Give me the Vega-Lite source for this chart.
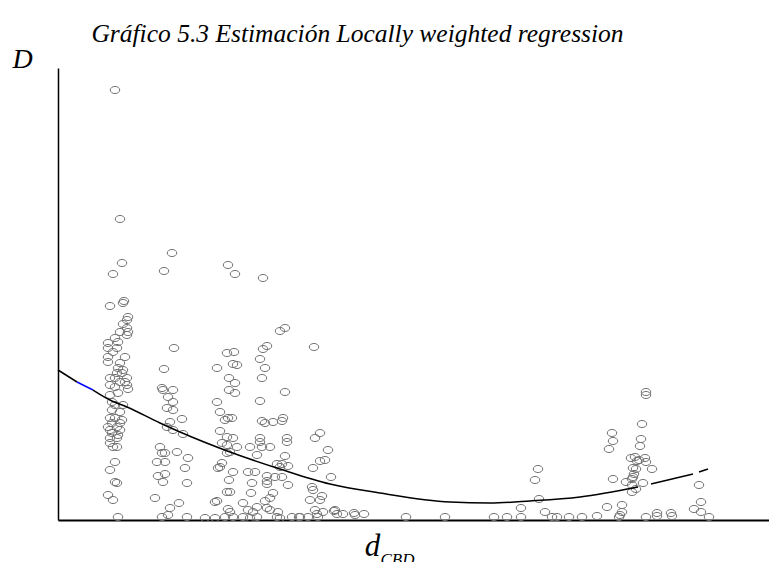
{
  "$schema": "https://vega.github.io/schema/vega-lite/v6.json",
  "width": 711,
  "height": 452,
  "autosize": {"type": "none"},
  "padding": {"left": 58, "top": 68, "right": 0, "bottom": 42},
  "background": "white",
  "config": {"view": {"stroke": null}},
  "title": {
    "text": "Gráfico 5.3 Estimación Locally weighted regression",
    "font": "Liberation Serif", "fontStyle": "italic", "fontWeight": "normal",
    "fontSize": 25.5, "color": "black", "anchor": "middle", "dx": -56, "offset": -2
  },
  "datasets": {
    "puntos": [
      {"dist":57,"D":430},{"dist":62,"D":301},{"dist":64,"D":257},{"dist":55,"D":246},{"dist":66,"D":219},{"dist":65,"D":217},{"dist":52,"D":214},{"dist":70,"D":203},{"dist":69,"D":200},{"dist":65,"D":196},{"dist":69,"D":192},{"dist":70,"D":188},{"dist":62,"D":188},{"dist":69,"D":185},{"dist":57,"D":182},{"dist":50,"D":177},{"dist":60,"D":178},{"dist":50,"D":172},{"dist":59,"D":172},{"dist":67,"D":163},{"dist":55,"D":168},{"dist":50,"D":163},{"dist":50,"D":158},{"dist":62,"D":157},{"dist":60,"D":152},{"dist":65,"D":150},{"dist":59,"D":147},{"dist":64,"D":147},{"dist":52,"D":142},{"dist":57,"D":142},{"dist":69,"D":142},{"dist":67,"D":138},{"dist":62,"D":138},{"dist":52,"D":135},{"dist":57,"D":133},{"dist":69,"D":135},{"dist":70,"D":131},{"dist":52,"D":125},{"dist":60,"D":127},{"dist":54,"D":118},{"dist":57,"D":115},{"dist":65,"D":115},{"dist":54,"D":110},{"dist":62,"D":108},{"dist":52,"D":102},{"dist":57,"D":102},{"dist":64,"D":100},{"dist":54,"D":97},{"dist":62,"D":97},{"dist":50,"D":93},{"dist":59,"D":93},{"dist":52,"D":90},{"dist":62,"D":90},{"dist":54,"D":87},{"dist":60,"D":85},{"dist":52,"D":82},{"dist":59,"D":82},{"dist":52,"D":77},{"dist":55,"D":73},{"dist":59,"D":73},{"dist":57,"D":58},{"dist":52,"D":50},{"dist":57,"D":38},{"dist":59,"D":37},{"dist":50,"D":25},{"dist":55,"D":20},{"dist":60,"D":3},
      {"dist":114,"D":267},{"dist":106,"D":249},{"dist":116,"D":172},{"dist":106,"D":151},{"dist":104,"D":132},{"dist":105,"D":130},{"dist":115,"D":130},{"dist":110,"D":123},{"dist":115,"D":118},{"dist":109,"D":112},{"dist":115,"D":110},{"dist":112,"D":98},{"dist":124,"D":101},{"dist":115,"D":90},{"dist":109,"D":93},{"dist":125,"D":86},{"dist":102,"D":73},{"dist":104,"D":67},{"dist":107,"D":67},{"dist":119,"D":68},{"dist":130,"D":62},{"dist":99,"D":58},{"dist":107,"D":58},{"dist":127,"D":52},{"dist":100,"D":44},{"dist":107,"D":46},{"dist":105,"D":38},{"dist":129,"D":37},{"dist":97,"D":22},{"dist":121,"D":17},{"dist":112,"D":12},{"dist":104,"D":3},{"dist":110,"D":5},{"dist":129,"D":3},{"dist":147,"D":2},{"dist":157,"D":2},
      {"dist":170,"D":255},{"dist":177,"D":246},{"dist":176,"D":168},{"dist":169,"D":167},{"dist":175,"D":156},{"dist":179,"D":155},{"dist":159,"D":152},{"dist":171,"D":142},{"dist":171,"D":130},{"dist":177,"D":127},{"dist":159,"D":118},{"dist":162,"D":108},{"dist":170,"D":102},{"dist":167,"D":100},{"dist":174,"D":102},{"dist":162,"D":89},{"dist":169,"D":83},{"dist":175,"D":82},{"dist":164,"D":77},{"dist":169,"D":75},{"dist":179,"D":73},{"dist":169,"D":67},{"dist":172,"D":68},{"dist":164,"D":57},{"dist":162,"D":53},{"dist":160,"D":52},{"dist":175,"D":48},{"dist":171,"D":40},{"dist":172,"D":28},{"dist":169,"D":28},{"dist":157,"D":18},{"dist":159,"D":19},{"dist":170,"D":11},{"dist":172,"D":8},{"dist":167,"D":3},{"dist":175,"D":3},
      {"dist":205,"D":242},{"dist":227,"D":192},{"dist":222,"D":189},{"dist":209,"D":174},{"dist":205,"D":171},{"dist":256,"D":173},{"dist":202,"D":161},{"dist":207,"D":152},{"dist":204,"D":142},{"dist":177,"D":137},{"dist":227,"D":128},{"dist":202,"D":119},{"dist":204,"D":99},{"dist":207,"D":97},{"dist":215,"D":98},{"dist":225,"D":102},{"dist":224,"D":99},{"dist":262,"D":87},{"dist":257,"D":82},{"dist":202,"D":82},{"dist":202,"D":78},{"dist":229,"D":82},{"dist":229,"D":78},{"dist":192,"D":73},{"dist":204,"D":73},{"dist":212,"D":73},{"dist":199,"D":65},{"dist":227,"D":64},{"dist":270,"D":70},{"dist":267,"D":60},{"dist":262,"D":59},{"dist":255,"D":52},{"dist":219,"D":56},{"dist":224,"D":56},{"dist":222,"D":53},{"dist":230,"D":54},{"dist":190,"D":48},{"dist":197,"D":48},{"dist":209,"D":44},{"dist":217,"D":43},{"dist":224,"D":43},{"dist":209,"D":39},{"dist":209,"D":36},{"dist":194,"D":37},{"dist":230,"D":35},{"dist":254,"D":33},{"dist":255,"D":30},{"dist":215,"D":27},{"dist":193,"D":27},{"dist":212,"D":22},{"dist":252,"D":20},{"dist":262,"D":20},{"dist":207,"D":19},{"dist":185,"D":17},{"dist":199,"D":13},{"dist":209,"D":12},{"dist":220,"D":8},{"dist":190,"D":10},{"dist":195,"D":8},{"dist":212,"D":10},{"dist":257,"D":10},{"dist":265,"D":8},{"dist":185,"D":3},{"dist":192,"D":2},{"dist":199,"D":3},{"dist":219,"D":3},{"dist":222,"D":2},{"dist":234,"D":3},{"dist":242,"D":3},{"dist":250,"D":3},{"dist":260,"D":3},
      {"dist":273,"D":43},{"dist":264,"D":24},{"dist":259,"D":6},{"dist":276,"D":9},{"dist":279,"D":6},{"dist":285,"D":6},{"dist":296,"D":7},{"dist":306,"D":6},{"dist":241,"D":3},{"dist":277,"D":10},{"dist":297,"D":5},{"dist":348,"D":3},{"dist":387,"D":3},
      {"dist":436,"D":3},{"dist":449,"D":3},{"dist":463,"D":12},{"dist":463,"D":3},{"dist":477,"D":40},{"dist":480,"D":51},{"dist":481,"D":21},{"dist":487,"D":8},{"dist":494,"D":3},{"dist":499,"D":3},{"dist":511,"D":3},
      {"dist":588,"D":128},{"dist":588,"D":125},{"dist":584,"D":96},{"dist":554,"D":87},{"dist":555,"D":79},{"dist":583,"D":81},{"dist":582,"D":74},{"dist":551,"D":71},{"dist":573,"D":62},{"dist":577,"D":63},{"dist":581,"D":60},{"dist":587,"D":62},{"dist":588,"D":58},{"dist":579,"D":59},{"dist":594,"D":51},{"dist":575,"D":52},{"dist":578,"D":51},{"dist":576,"D":46},{"dist":575,"D":43},{"dist":574,"D":41},{"dist":555,"D":41},{"dist":568,"D":38},{"dist":585,"D":37},{"dist":574,"D":35},{"dist":578,"D":31},{"dist":574,"D":28},{"dist":641,"D":35},{"dist":643,"D":18},{"dist":636,"D":11},{"dist":643,"D":8},{"dist":651,"D":3},{"dist":549,"D":13},{"dist":564,"D":15},{"dist":564,"D":8},{"dist":562,"D":5},{"dist":561,"D":3},{"dist":539,"D":4},{"dist":524,"D":3},{"dist":588,"D":3},{"dist":599,"D":7},{"dist":599,"D":4},{"dist":613,"D":7},{"dist":614,"D":4}
    ],
    "curva": [
      {"dist":0,"D":150,"tramo":"a"},{"dist":19,"D":138,"tramo":"a"},
      {"dist":19,"D":138,"tramo":"b"},{"dist":35,"D":130,"tramo":"b"},
      {"dist":35,"D":130,"tramo":"c"},{"dist":52,"D":120,"tramo":"c"},{"dist":69,"D":113,"tramo":"c"},{"dist":102,"D":97,"tramo":"c"},{"dist":122,"D":88,"tramo":"c"},{"dist":172,"D":68,"tramo":"c"},{"dist":222,"D":51,"tramo":"c"},{"dist":272,"D":36,"tramo":"c"},{"dist":322,"D":27,"tramo":"c"},{"dist":392,"D":18,"tramo":"c"},{"dist":432,"D":17,"tramo":"c"},{"dist":472,"D":19,"tramo":"c"},{"dist":522,"D":23,"tramo":"c"},{"dist":580,"D":33,"tramo":"c"},
      {"dist":593,"D":36,"tramo":"d"},{"dist":635,"D":46,"tramo":"d"},
      {"dist":641,"D":48,"tramo":"e"},{"dist":650,"D":51,"tramo":"e"}
    ]
  },
  "resolve": {"axis": {"x": "independent"}},
  "layer": [
    {
      "data": {"name": "puntos"},
      "mark": {"type": "point", "shape": "M-1,0A1,0.75,0,1,1,1,0A1,0.75,0,1,1,-1,0Z", "filled": false, "size": 90, "stroke": "#737373", "strokeWidth": 1, "opacity": 1},
      "encoding": {
        "x": {"field": "dist", "type": "quantitative", "scale": {"domain": [0, 711], "nice": false, "zero": false},
              "axis": {"orient": "bottom", "title": "d", "labels": false, "ticks": false, "grid": false, "domainColor": "black", "domainWidth": 2,
                       "titleFont": "Liberation Serif", "titleFontStyle": "italic", "titleFontWeight": "normal", "titleFontSize": 31, "titleColor": "black",
                       "titleX": 314, "titleY": 35, "titleAlign": "center", "titleBaseline": "alphabetic"}},
        "y": {"field": "D", "type": "quantitative", "scale": {"domain": [0, 452], "nice": false, "zero": false},
              "axis": {"title": "D", "labels": false, "ticks": false, "grid": false, "domainColor": "black", "domainWidth": 1.5,
                       "titleAngle": 0, "titleFont": "Liberation Serif", "titleFontStyle": "italic", "titleFontWeight": "normal", "titleFontSize": 28, "titleColor": "black",
                       "titleX": -36, "titleY": -1, "titleAlign": "center", "titleBaseline": "alphabetic"}}
      }
    },
    {
      "data": {"name": "curva"},
      "mark": {"type": "line", "strokeWidth": 1.5, "interpolate": "monotone"},
      "encoding": {
        "x": {"field": "dist", "type": "quantitative", "scale": {"domain": [0, 711], "nice": false, "zero": false},
              "axis": {"orient": "top", "title": "CBD", "labels": false, "ticks": false, "grid": false, "domain": false,
                       "titleFont": "Liberation Serif", "titleFontStyle": "italic", "titleFontWeight": "normal", "titleFontSize": 17, "titleColor": "black",
                       "titleX": 339, "titleY": 496, "titleAlign": "center", "titleBaseline": "alphabetic"}},
        "y": {"field": "D", "type": "quantitative"},
        "color": {"field": "tramo", "type": "nominal", "legend": null,
                  "scale": {"domain": ["a", "b", "c", "d", "e"], "range": ["black", "#0000ff", "black", "black", "black"]}}
      }
    }
  ]
}
